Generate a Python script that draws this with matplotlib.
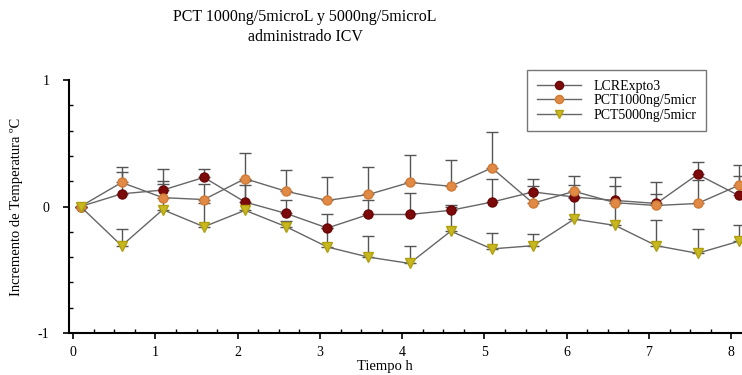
import matplotlib
matplotlib.use("Agg")
import matplotlib.pyplot as plt
from matplotlib.ticker import MultipleLocator

times = [0.09, 0.59, 1.09, 1.59, 2.09, 2.59, 3.09, 3.59, 4.09, 4.59,
         5.09, 5.59, 6.09, 6.59, 7.09, 7.59, 8.09]

series_names = ["LCRExpto3", "PCT1000ng/5micr", "PCT5000ng/5micr"]

lcr_vals = [0, 0.10, 0.13, 0.23, 0.035, -0.055, -0.17, -0.063, -0.063, -0.03,
            0.035, 0.115, 0.075, 0.048, 0.024, 0.254, 0.087]
lcr_err = [0, 0.175, 0.17, 0.07, 0.165, 0.11, 0.107, 0.118, 0.173, 0.045,
           0.185, 0.105, 0.095, 0.112, 0.076, 0.10, 0.158]

pct1000_vals = [0, 0.19, 0.07, 0.055, 0.22, 0.12, 0.048, 0.095, 0.19, 0.16,
                0.305, 0.026, 0.12, 0.03, 0.008, 0.024, 0.167]
pct1000_err = [0, 0.12, 0.13, 0.12, 0.205, 0.17, 0.182, 0.215, 0.215, 0.21,
               0.28, 0.134, 0.12, 0.205, 0.182, 0.186, 0.163]

pct5000_vals = [0, -0.31, -0.025, -0.16, -0.03, -0.16, -0.32, -0.40, -0.45, -0.195,
                -0.335, -0.31, -0.10, -0.15, -0.31, -0.37, -0.275]
pct5000_err = [0, 0.135, 0.2, 0.19, 0.2, 0.045, 0.15, 0.17, 0.14, 0.195,
               0.125, 0.095, 0.17, 0.18, 0.2, 0.19, 0.13]

ytick_vals = [-1, 0, 1]
ytick_labels = ["-1", "0", "1"]
xtick_vals = [0, 1, 2, 3, 4, 5, 6, 7, 8]

serif = ["Liberation Serif", "DejaVu Serif"]
plt.rcParams["font.family"] = serif

fig = plt.figure(figsize=(7.42, 3.75), dpi=100)
ax = fig.add_axes([69 / 742, 42 / 375, 673 / 742, 253 / 375])

styles = [
    dict(marker="o", color="#7d0a0a", ms=6.5, mec="#6a0505"),
    dict(marker="o", color="#e08a45", ms=6.5, mec="#d07a35"),
    dict(marker="v", color="#c8b820", ms=6.5, mec="#b0a010"),
]
vals = [lcr_vals, pct1000_vals, pct5000_vals]
errs = [lcr_err, pct1000_err, pct5000_err]

for name, v, e, st in zip(series_names, vals, errs, styles):
    ax.errorbar(times, v, yerr=[[0] * len(e), e], fmt="none", ecolor="#555555",
                elinewidth=1.0, capsize=4, capthick=1.0, zorder=2, clip_on=False)
for name, v, e, st in zip(series_names, vals, errs, styles):
    ax.plot(times, v, color="#666666", lw=1.0, marker=st["marker"], ms=st["ms"],
            mfc=st["color"], mec=st["mec"], label=name, zorder=3, clip_on=False)

ax.set_xlim(-0.05, 8.13)
ax.set_ylim(-1, 1)
ax.set_yticks(ytick_vals)
ax.set_yticklabels(ytick_labels)
ax.set_xticks(xtick_vals)
ax.xaxis.set_minor_locator(MultipleLocator(0.25))
ax.yaxis.set_minor_locator(MultipleLocator(0.2))
for s in ["top", "right"]:
    ax.spines[s].set_visible(False)
for s in ["left", "bottom"]:
    ax.spines[s].set_linewidth(1.5)
ax.tick_params(axis="both", which="major", direction="out", length=4, width=1.2,
               labelsize=10, pad=5)
ax.tick_params(axis="both", which="minor", direction="in", length=3, width=1.0)
ax.tick_params(axis="y", which="major", pad=10)

ax.set_xlabel("Tiempo h", fontsize=10.5)
ax.xaxis.set_label_coords(0.47, -0.105)
ax.set_ylabel("Incremento de Temperatura ºC", fontsize=10.5)
ax.yaxis.set_label_coords(-0.068, 0.5)

fig.text(305 / 742, 1 - 17 / 375, "PCT 1000ng/5microL y 5000ng/5microL",
         ha="center", va="center", fontsize=11.5)
fig.text(305 / 742, 1 - 37 / 375, "administrado ICV",
         ha="center", va="center", fontsize=11.5)

leg = ax.legend(loc="upper left", bbox_to_anchor=(527 / 742, 1 - 70 / 375),
                bbox_transform=fig.transFigure, fontsize=10, frameon=True,
                fancybox=False, edgecolor="#555555", handlelength=3.2,
                handletextpad=0.9, borderpad=0.7, borderaxespad=0,
                labelspacing=0.1, markerscale=0.9)
leg.get_frame().set_linewidth(1.0)
for t in leg.get_texts():
    t.set_family(serif)

fig.savefig("out.png", dpi=100)
